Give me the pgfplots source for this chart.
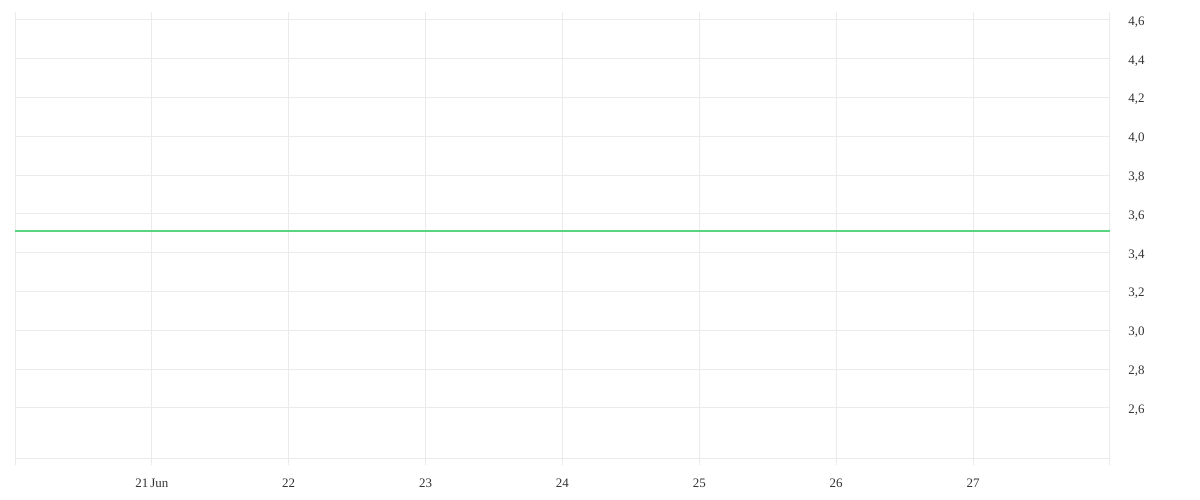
\documentclass[border=0pt]{standalone}
\usepackage{pgfplots}
\pgfplotsset{compat=1.18}
\usepackage{fontspec}
\setmainfont{Liberation Serif}
\definecolor{gridc}{HTML}{EBEBEB}
\definecolor{linec}{HTML}{5AD47E}
\definecolor{txt}{HTML}{333333}
\begin{document}
\begin{tikzpicture}[x=1bp,y=1bp]
\begin{axis}[
  at={(0,0)}, anchor=south west,
  scale only axis,
  width=1095bp, height=446bp,
  xmin=20, xmax=28,
  ymin=2.342, ymax=4.641,
  axis line style={draw=none},
  xtick={20,21,...,28},
  xticklabels={,21\,Jun,22,23,24,25,26,27,},
  ytick={2.6,2.8,...,4.6},
  yticklabel pos=right,
  yticklabel style={anchor=west, xshift=8bp, yshift=-2bp},
  xticklabel style={yshift=-10bp},
  /pgf/number format/.cd, fixed, fixed zerofill, precision=1, use comma, assume math mode=true,
  /pgfplots/.cd,
  ticklabel style={font=\fontsize{13}{15}\selectfont, text=txt},
  xmajorgrids, ymajorgrids,
  grid style={draw=gridc, line width=1bp},
  major tick length=7bp,
  tick style={draw=gridc, line width=1bp},
  xtick pos=bottom, ytick pos=right,
  tick align=outside,
  ytick style={draw=none},
  clip=false,
  extra description/.code={
    \draw[gridc, line width=1bp] (axis cs:20,2.342) -- (axis cs:28,2.342);
  },
]
\addplot[linec, line width=2.8bp] coordinates {(20,3.512) (28,3.512)};
\end{axis}
\useasboundingbox (-15bp,-42bp) rectangle (1185bp,458bp);
\end{tikzpicture}
\end{document}
